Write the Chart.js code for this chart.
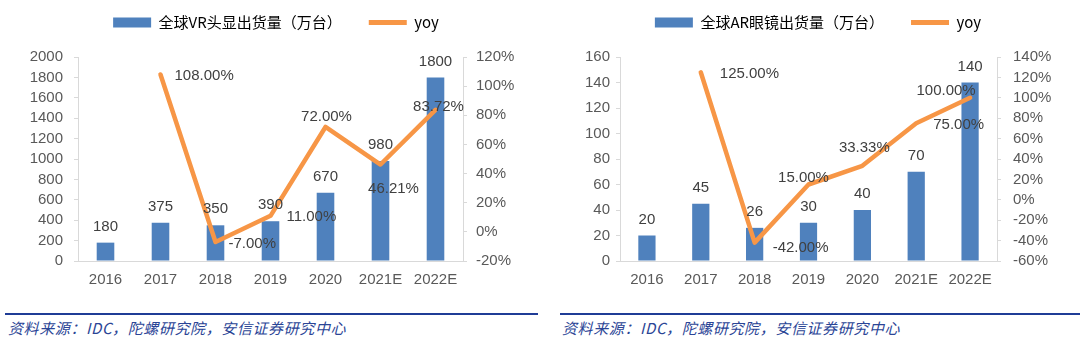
<!DOCTYPE html>
<html>
<head>
<meta charset="utf-8">
<script src="https://cdn.jsdelivr.net/npm/chart.js@4.4.1/dist/chart.umd.min.js"></script>
<style>
body{margin:0;width:1080px;height:341px;background:#fff;position:relative;overflow:hidden}
.box{position:absolute;top:0;height:300px}
.rule{position:absolute;top:313px;height:2px;background:#1f3c96}
.src{position:absolute;top:317px;line-height:20px;font:italic 15px "Noto Sans CJK SC",sans-serif;color:#2b4596;letter-spacing:0.6px;white-space:nowrap}
</style>
</head>
<body>
<div class="box" style="left:0;width:552px"><canvas id="vrChart"></canvas></div>
<div class="box" style="left:556px;width:524px"><canvas id="arChart"></canvas></div>
<div class="rule" style="left:5px;width:533px"></div>
<div class="rule" style="left:560px;width:520px"></div>
<div class="src" style="left:8px">资料来源：IDC，陀螺研究院，安信证券研究中心</div>
<div class="src" style="left:562px">资料来源：IDC，陀螺研究院，安信证券研究中心</div>
<script>
// 数据
const years = ['2016', '2017', '2018', '2019', '2020', '2021E', '2022E'];
const vrShip = [180, 375, 350, 390, 670, 980, 1800];
const vrYoy = [null, 108, -7, 11, 72, 46.21, 83.72];
const arShip = [20, 45, 26, 30, 40, 70, 140];
const arYoy = [null, 125, -42, 15, 33.33, 75, 100];

// 轴范围 [min, max, step]
const vrAxis = [0, 2000, 200];
const vrPctAxis = [-20, 120, 20];
const arAxis = [0, 160, 20];
const arPctAxis = [-60, 140, 20];

// yoy 标签位置 [dx, dy, align]
const vrLabelPos = [null, [14, 1, 'left'], [13, 2, 'left'], [16, 1, 'left'], [1, -10, 'center'], [13, 24, 'center'], [3, -3, 'center']];
const arLabelPos = [null, [19, 2, 'left'], [18, 5, 'left'], [-5, -7, 'center'], [2, -18, 'center'], [17, 2, 'left'], [-24, -7, 'center']];

const BLUE = '#4f81bd';
const ORANGE = '#f79646';
const tickFont = {family: '"Liberation Sans", Arial, sans-serif', size: 15};

function valueLabels(pos) {
    return {
        id: 'valueLabels',
        afterDatasetsDraw(chart) {
            const ctx = chart.ctx;
            ctx.save();
            ctx.font = '15px "Liberation Sans", Arial, sans-serif';
            ctx.fillStyle = '#404040';
            ctx.textBaseline = 'middle';
            const bars = chart.getDatasetMeta(0).data;
            bars.forEach((bar, i) => {
                ctx.textAlign = 'center';
                ctx.fillText(chart.data.datasets[0].data[i], bar.x, bar.y - 16);
            });
            const pts = chart.getDatasetMeta(1).data;
            pts.forEach((pt, i) => {
                const v = chart.data.datasets[1].data[i];
                if (v === null || !pos[i]) return;
                ctx.textAlign = pos[i][2];
                ctx.fillText(v.toFixed(2) + '%', pt.x + pos[i][0], pt.y + pos[i][1]);
            });
            ctx.restore();
        }
    };
}

function buildChart(id, label, ship, yoy, axis, pctAxis, leftW, rightW, leftPad, rightPad, pos) {
    const ctx = document.getElementById(id).getContext('2d');
    return new Chart(ctx, {
        type: 'bar',
        data: {
            labels: years,
            datasets: [{
                type: 'bar',
                label: label,
                data: ship,
                backgroundColor: BLUE,
                yAxisID: 'y',
                order: 2,
                barPercentage: 0.32,
                categoryPercentage: 1
            }, {
                type: 'line',
                label: 'yoy',
                data: yoy,
                borderColor: ORANGE,
                backgroundColor: ORANGE,
                borderWidth: 4.5,
                pointRadius: 0,
                borderJoinStyle: 'round',
                borderCapStyle: 'round',
                yAxisID: 'y1',
                order: 1
            }]
        },
        options: {
            responsive: true,
            maintainAspectRatio: false,
            animation: false,
            layout: {padding: {top: -12, left: 0, right: 0, bottom: 0}},
            plugins: {
                tooltip: {enabled: false},
                title: {display: true, text: ' ', weight: 500, font: {size: 1, lineHeight: 1}, padding: {top: 0, bottom: 16}},
                legend: {
                    display: true,
                    position: 'top',
                    labels: {
                        usePointStyle: true,
                        pointStyleWidth: 38,
                        boxHeight: 10,
                        padding: 27,
                        color: '#767676',
                        font: {family: '"Noto Sans CJK SC", sans-serif', size: 15},
                        generateLabels: () => [
                            {text: label, fillStyle: BLUE, strokeStyle: BLUE, lineWidth: 0, pointStyle: 'rect', datasetIndex: 0, hidden: false},
                            {text: 'yoy', fillStyle: ORANGE, strokeStyle: ORANGE, lineWidth: 5, pointStyle: 'line', datasetIndex: 1, hidden: false}
                        ]
                    }
                }
            },
            scales: {
                x: {
                    grid: {display: true, drawOnChartArea: false, drawTicks: false},
                    border: {color: '#d9d9d9'},
                    ticks: {color: '#595959', font: tickFont, padding: 10, maxRotation: 0},
                    afterFit(s) { s.height = 39; }
                },
                y: {
                    position: 'left',
                    min: axis[0], max: axis[1],
                    ticks: {stepSize: axis[2], autoSkip: false, color: '#595959', font: tickFont, padding: leftPad, callback: v => String(v)},
                    grid: {drawOnChartArea: false, drawTicks: true, tickLength: 4, color: '#d9d9d9'},
                    border: {color: '#d9d9d9'},
                    afterFit(s) { s.width = leftW; }
                },
                y1: {
                    position: 'right',
                    min: pctAxis[0], max: pctAxis[1],
                    ticks: {stepSize: pctAxis[2], autoSkip: false, color: '#595959', font: tickFont, padding: rightPad, callback: v => v + '%'},
                    grid: {drawOnChartArea: false, drawTicks: true, tickLength: 4, color: '#d9d9d9'},
                    border: {color: '#d9d9d9'},
                    afterFit(s) { s.width = rightW; }
                }
            }
        },
        plugins: [valueLabels(pos)]
    });
}

buildChart('vrChart', '全球VR头显出货量（万台）', vrShip, vrYoy, vrAxis, vrPctAxis, 78, 89, 11, 9, vrLabelPos);
buildChart('arChart', '全球AR眼镜出货量（万台）', arShip, arYoy, arAxis, arPctAxis, 64, 83, 6, 12, arLabelPos);
</script>
</body>
</html>
